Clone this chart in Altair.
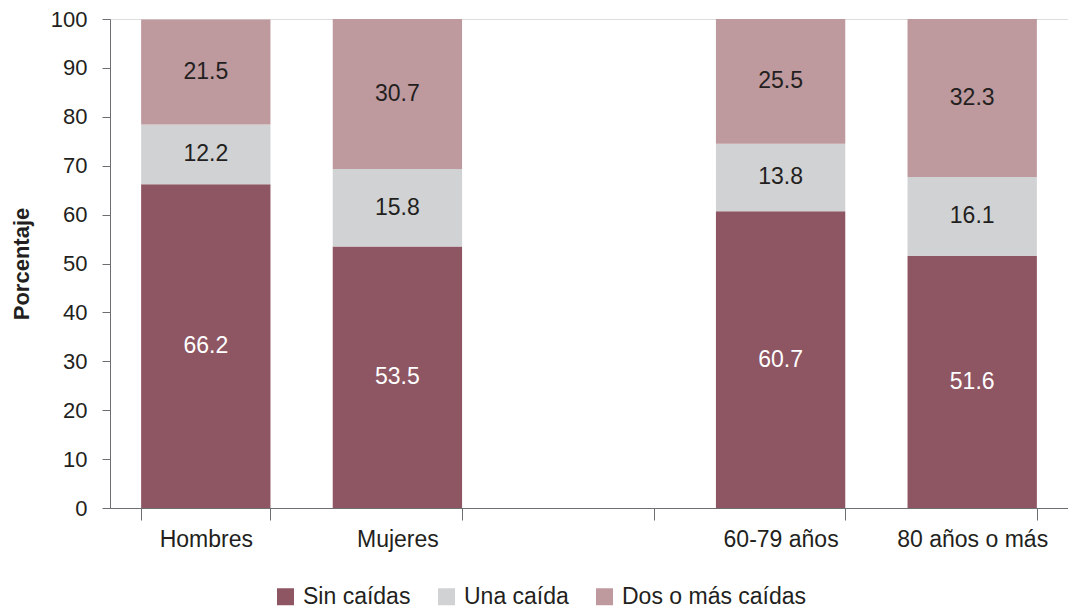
import altair as alt
import pandas as pd

categories = ["Hombres", "Mujeres", "", "60-79 años", "80 años o más"]
bar_categories = ["Hombres", "Mujeres", "60-79 años", "80 años o más"]
series = ["Sin caídas", "Una caída", "Dos o más caídas"]
sin_caidas = [66.2, 53.5, 60.7, 51.6]
una_caida = [12.2, 15.8, 13.8, 16.1]
dos_o_mas = [21.5, 30.7, 25.5, 32.3]
colors = ["#8E5562", "#D1D2D4", "#BE999E"]
text_colors = ["#FFFFFF", "#231F20", "#231F20"]

rows = []
for i, c in enumerate(bar_categories):
    for j, (s, vals) in enumerate(zip(series, [sin_caidas, una_caida, dos_o_mas])):
        rows.append({"cat": c, "serie": s, "valor": vals[i], "ord": j,
                     "label": f"{vals[i]:.1f}"})
df = pd.DataFrame(rows)

base = alt.Chart(df).transform_stack(
    stack="valor", groupby=["cat"], as_=["y0", "y1"], sort=[alt.SortField("ord")]
).transform_calculate(mid="(datum.y0 + datum.y1) / 2")

xscale = alt.Scale(domain=categories, paddingInner=0.325, paddingOuter=0.1625)
yscale = alt.Scale(domain=[0, 100])
xaxis = alt.Axis(title=None, labelAngle=0, tickBand="extent")
yaxis = alt.Axis(title="Porcentaje", values=list(range(0, 101, 10)), grid=False)

bars = base.mark_bar().encode(
    x=alt.X("cat:N", scale=xscale, axis=xaxis),
    y=alt.Y("y0:Q", scale=yscale, axis=yaxis),
    y2="y1:Q",
    color=alt.Color("serie:N", scale=alt.Scale(domain=series, range=colors),
                    sort=series,
                    legend=alt.Legend(title=None, orient="none", direction="horizontal",
                                      legendX=164, legendY=566, symbolType="square",
                                      symbolSize=289, symbolStrokeWidth=0, labelFontSize=23,
                                      labelFont="Liberation Sans", labelColor="#231F20",
                                      columnPadding=24, labelOffset=6, labelLimit=400)),
    order=alt.Order("ord:Q"),
)

texts = base.mark_text(fontSize=23, font="Liberation Sans").encode(
    x=alt.X("cat:N", scale=xscale, axis=xaxis),
    y=alt.Y("mid:Q", scale=yscale, axis=yaxis),
    text="label:N",
    color=alt.Color("serie:N", scale=alt.Scale(domain=series, range=text_colors), legend=None),
)

chart = alt.layer(bars, texts).resolve_scale(color="independent").properties(
    width=958, height=489, padding={"left": 2, "top": 0, "right": 0, "bottom": 0}
).configure_view(stroke=None).configure(background="white").configure_axis(
    labelFont="Liberation Sans", labelColor="#231F20",
    titleFont="Liberation Sans", titleFontWeight="bold",
    titleColor="#231F20", tickColor="#6D6E71", domainColor="#6D6E71",
    labelOverlap=False
).configure_axisX(
    tickSize=12, labelPadding=8, labelFontSize=23
).configure_axisY(
    tickSize=8, labelPadding=15, titlePadding=17, labelFontSize=22, titleFontSize=22
)

chart.save("out.html", embed_options={"renderer": "svg", "actions": False})
